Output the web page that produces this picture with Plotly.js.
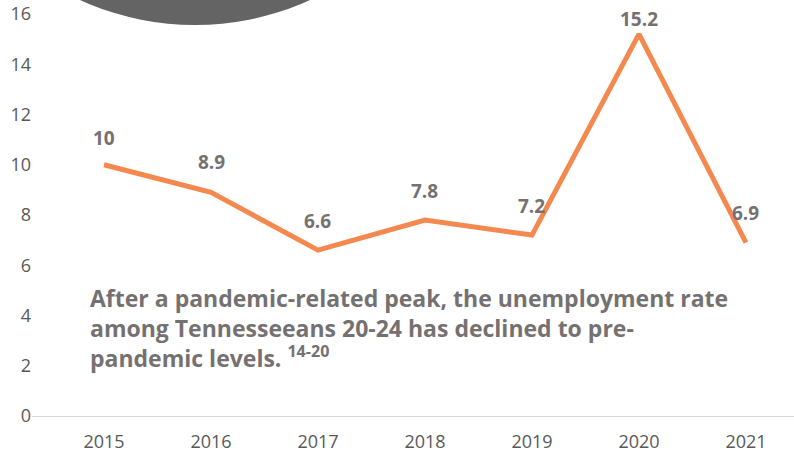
<!DOCTYPE html>
<html>
<head>
<meta charset="utf-8">
<script src="https://cdn.plot.ly/plotly-3.0.1.min.js"></script>
<style>html,body{margin:0;padding:0;background:#fff;}#chart{width:794px;height:455px;}</style>
</head>
<body>
<div id="chart"></div>
<script>
var years = ['2015', '2016', '2017', '2018', '2019', '2020', '2021'];
var rates = [10, 8.9, 6.6, 7.8, 7.2, 15.2, 6.9];
var labels = ['10', '8.9', '6.6', '7.8', '7.2', '15.2', '6.9'];
var yTicks = [0, 2, 4, 6, 8, 10, 12, 14, 16];
var noteText = 'After a pandemic-related peak, the unemployment rate<br>among Tennesseeans 20-24 has declined to pre-<br>pandemic levels. <sup>14-20</sup>';

var labelShift = [27, 30, 29, 29, 29, 15, 30];
var FONT = '"Open Sans", sans-serif';

var trace = {
  x: years, y: rates, type: 'scatter', mode: 'lines',
  line: {color: '#F4894F', width: 5},
  hoverinfo: 'skip'
};

var annotations = years.map(function (yr, i) {
  return {
    x: i, y: rates[i], xref: 'x', yref: 'y', text: '<b>' + labels[i] + '</b>',
    showarrow: false, yshift: labelShift[i],
    font: {family: FONT, size: 19, color: '#767171'}
  };
});
annotations.push({
  xref: 'paper', yref: 'paper', x: 0.0735, y: 0.327, xanchor: 'left', yanchor: 'top',
  align: 'left', showarrow: false, text: '<b>' + noteText + '</b>',
  font: {family: FONT, size: 23, color: '#767171'}
});

var layout = {
  width: 794, height: 455,
  margin: {l: 32, r: 0, t: 0, b: 39},
  paper_bgcolor: '#fff', plot_bgcolor: '#fff',
  showlegend: false,
  font: {family: FONT, color: '#595959', size: 18},
  xaxis: {
    type: 'category', range: [-0.673, 6.449],
    showgrid: false, zeroline: false, showline: true, linecolor: '#D9D9D9', linewidth: 1,
    ticks: '', ticklabelstandoff: 9, tickfont: {family: FONT, size: 18, color: '#595959'}
  },
  yaxis: {
    range: [0, 16.557], tickvals: yTicks, ticktext: yTicks.map(String),
    showgrid: false, zeroline: false, showline: false, ticks: '',
    tickfont: {family: FONT, size: 18, color: '#595959'}
  },
  shapes: [{
    type: 'circle', xref: 'paper', yref: 'paper',
    x0: -0.1496, x1: 0.5774, y0: 0.9399, y1: 2.2716,
    fillcolor: '#646464', line: {width: 0}, layer: 'above'
  }],
  annotations: annotations
};

Plotly.newPlot('chart', [trace], layout, {displayModeBar: false, staticPlot: true});
</script>
</body>
</html>
